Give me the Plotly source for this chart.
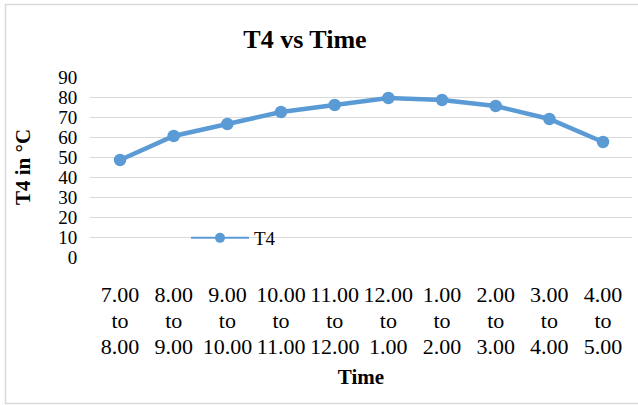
import plotly.graph_objects as go

# Hourly time slots and the measured T4 temperature (°C) in each slot
slot_start = ["7.00", "8.00", "9.00", "10.00", "11.00", "12.00", "1.00", "2.00", "3.00", "4.00"]
slot_end = ["8.00", "9.00", "10.00", "11.00", "12.00", "1.00", "2.00", "3.00", "4.00", "5.00"]
t4_values = [48.5, 60.5, 66.5, 72.5, 76, 79.5, 78.5, 75.5, 69, 57.5]
y_ticks = [0, 10, 20, 30, 40, 50, 60, 70, 80, 90]

BLUE = "#5B9BD5"
GRID = "#D9D9D9"
SERIF = "Liberation Serif, Times New Roman, serif"

categories = [f"{a} to {b}" for a, b in zip(slot_start, slot_end)]
# three-line tick labels; the outer font size sets the line pitch
tick_text = [
    f"<span style='font-size:22px'>{a}</span><br>"
    f"<span style='font-size:22px'>to</span><br>"
    f"<span style='font-size:22px'>{b}</span>"
    for a, b in zip(slot_start, slot_end)
]

fig = go.Figure()

# data line (thick), kept out of the legend
fig.add_trace(go.Scatter(
    x=categories, y=t4_values, mode="lines+markers", name="T4",
    line=dict(color=BLUE, width=4.5),
    marker=dict(color=BLUE, size=12.5),
    showlegend=False,
))
# legend entry drawn with the thinner key line
fig.add_trace(go.Scatter(
    x=[None], y=[None], mode="lines+markers", name="T4",
    line=dict(color=BLUE, width=2),
    marker=dict(color=BLUE, size=10),
))

W, H = 638, 405
L, R, T, B = 90, 6, 77, 148
pw, ph = W - L - R, H - T - B

def px_x(p):
    return (p - L) / pw

def px_y(p):
    return (H - B - p) / ph

fig.update_layout(
    width=W, height=H,
    margin=dict(l=L, r=R, t=T, b=B),
    paper_bgcolor="white", plot_bgcolor="white",
    font=dict(family=SERIF, color="#000000"),
    title=dict(
        text="<b>T4 vs Time</b>", font=dict(size=26, family=SERIF),
        x=305 / W, xanchor="center", xref="container",
        y=(H - 39) / H, yanchor="middle", yref="container",
    ),
    xaxis=dict(
        tickmode="array", tickvals=categories, ticktext=tick_text,
        range=[-0.56, 9.54],
        tickfont=dict(size=20, family=SERIF),
        tickangle=0, showgrid=False, showline=False, zeroline=False,
        ticks="outside", ticklen=20, tickcolor="rgba(0,0,0,0)",
        title=dict(text="<b>Time</b>", font=dict(size=21, family=SERIF), standoff=11),
    ),
    yaxis=dict(
        range=[0, 90], tickmode="array", tickvals=y_ticks,
        tickfont=dict(size=19, family=SERIF),
        showgrid=True, gridcolor=GRID, gridwidth=1,
        zeroline=False, showline=False,
        ticks="outside", ticklen=8, tickcolor="rgba(0,0,0,0)",
        title=dict(text="<b>T4 in °C</b>", font=dict(size=21, family=SERIF), standoff=21),
    ),
    legend=dict(
        x=px_x(186), y=px_y(238), xanchor="left", yanchor="middle",
        font=dict(size=19, family=SERIF), bgcolor="rgba(0,0,0,0)",
        itemwidth=58,
    ),
    shapes=[dict(
        type="rect", xref="paper", yref="paper",
        x0=px_x(5.5), x1=px_x(645), y0=px_y(403.5), y1=px_y(4.5),
        line=dict(color=GRID, width=1.5), fillcolor="rgba(0,0,0,0)",
        layer="below",
    )],
)

fig.write_html("out.html")
